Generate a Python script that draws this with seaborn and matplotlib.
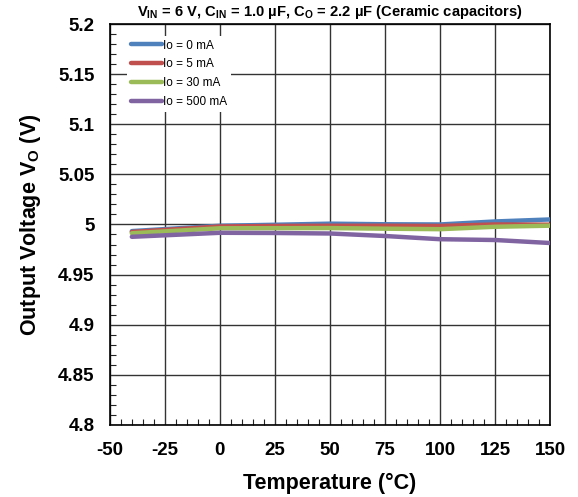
import numpy as np
import pandas as pd
import matplotlib
matplotlib.use("Agg")
import matplotlib.pyplot as plt
from matplotlib.ticker import MultipleLocator, FormatStrFormatter
import seaborn as sns

# Output voltage vs. temperature for several load currents
temperature = [-40, 0, 25, 50, 75, 100, 125, 150]
vo_0ma = [4.9934, 4.9987, 4.9997, 5.0008, 5.0002, 5.0000, 5.0030, 5.0050]
vo_5ma = [4.9925, 4.9980, 4.9985, 4.9987, 4.9987, 4.9985, 5.0000, 4.9998]
vo_30ma = [4.9912, 4.9962, 4.9963, 4.9964, 4.9958, 4.9953, 4.9977, 4.9988]
vo_500ma = [4.9877, 4.9917, 4.9915, 4.9910, 4.9885, 4.9853, 4.9845, 4.9815]
series_names = ["Io = 0 mA", "Io = 5 mA", "Io = 30 mA", "Io = 500 mA"]
series_colors = ["#4F81BD", "#C0504D", "#9BBB59", "#8064A2"]

x_ticks = [-50, -25, 0, 25, 50, 75, 100, 125, 150]
y_ticks = [4.8, 4.85, 4.9, 4.95, 5.0, 5.05, 5.1, 5.15, 5.2]

frames = []
for name, vals in zip(series_names, [vo_0ma, vo_5ma, vo_30ma, vo_500ma]):
    frames.append(pd.DataFrame({"Temperature": temperature, "Vo": vals, "Load": name}))
df = pd.concat(frames, ignore_index=True)

sns.set_style("white")
plt.rcParams["font.family"] = ["Liberation Sans", "DejaVu Sans"]
plt.rcParams["mathtext.fontset"] = "custom"
plt.rcParams["mathtext.rm"] = "Liberation Sans:bold"
plt.rcParams["mathtext.it"] = "Liberation Sans:bold"
plt.rcParams["mathtext.bf"] = "Liberation Sans:bold"
plt.rcParams["text.color"] = "black"
plt.rcParams["axes.labelcolor"] = "black"
plt.rcParams["xtick.color"] = "black"
plt.rcParams["ytick.color"] = "black"

fig = plt.figure(figsize=(5.78, 4.97), dpi=100)
ax = fig.add_axes([0.190, 0.145, 0.7616, 0.8067])

sns.lineplot(data=df, x="Temperature", y="Vo", hue="Load", hue_order=series_names,
             palette=series_colors, linewidth=3.2, ax=ax, legend=True, zorder=3)

ax.set_xlim(-50, 150)
ax.set_ylim(4.8, 5.2)
ax.set_xticks(x_ticks)
ax.set_yticks(y_ticks)
ax.xaxis.set_minor_locator(MultipleLocator(5))
ax.yaxis.set_minor_locator(MultipleLocator(0.01))
ax.yaxis.set_major_formatter(FormatStrFormatter("%g"))
ax.xaxis.set_major_formatter(FormatStrFormatter("%g"))

ax.grid(True, which="major", color="#333333", linewidth=1.0, zorder=1)
ax.set_axisbelow(True)
ax.tick_params(axis="y", which="major", length=0, pad=11, labelsize=13.5)
ax.tick_params(axis="x", which="major", length=0, pad=12, labelsize=13.5)
ax.tick_params(axis="both", which="minor", direction="in", length=4, width=0.8,
               color="#222222", left=True, bottom=True)
for lbl in ax.get_xticklabels() + ax.get_yticklabels():
    lbl.set_fontweight("bold")

for sp in ax.spines.values():
    sp.set_color("black")
    sp.set_linewidth(1.2)

ax.set_xlabel("Temperature (°C)", fontsize=15.5, fontweight="bold", labelpad=10)
ax.set_ylabel(r"Output Voltage V$_{\mathrm{O}}$ (V)", fontsize=15.5, fontweight="bold", labelpad=11)
ax.set_title(r"V$_{\mathrm{IN}}$ = 6 V, C$_{\mathrm{IN}}$ = 1.0 µF, C$_{\mathrm{O}}$ = 2.2 µF (Ceramic capacitors)",
             fontsize=10.6, fontweight="bold", pad=6)

leg = ax.legend(loc="upper left", bbox_to_anchor=(0.04, 0.970), frameon=True,
                facecolor="white", edgecolor="none", framealpha=1.0,
                fontsize=8.5, handlelength=2.6, handletextpad=0.1,
                labelspacing=0.58, borderpad=0.3, borderaxespad=0)
leg.set_zorder(5)
for t in leg.get_texts():
    t.set_color("black")

fig.savefig("out.png", dpi=100)
